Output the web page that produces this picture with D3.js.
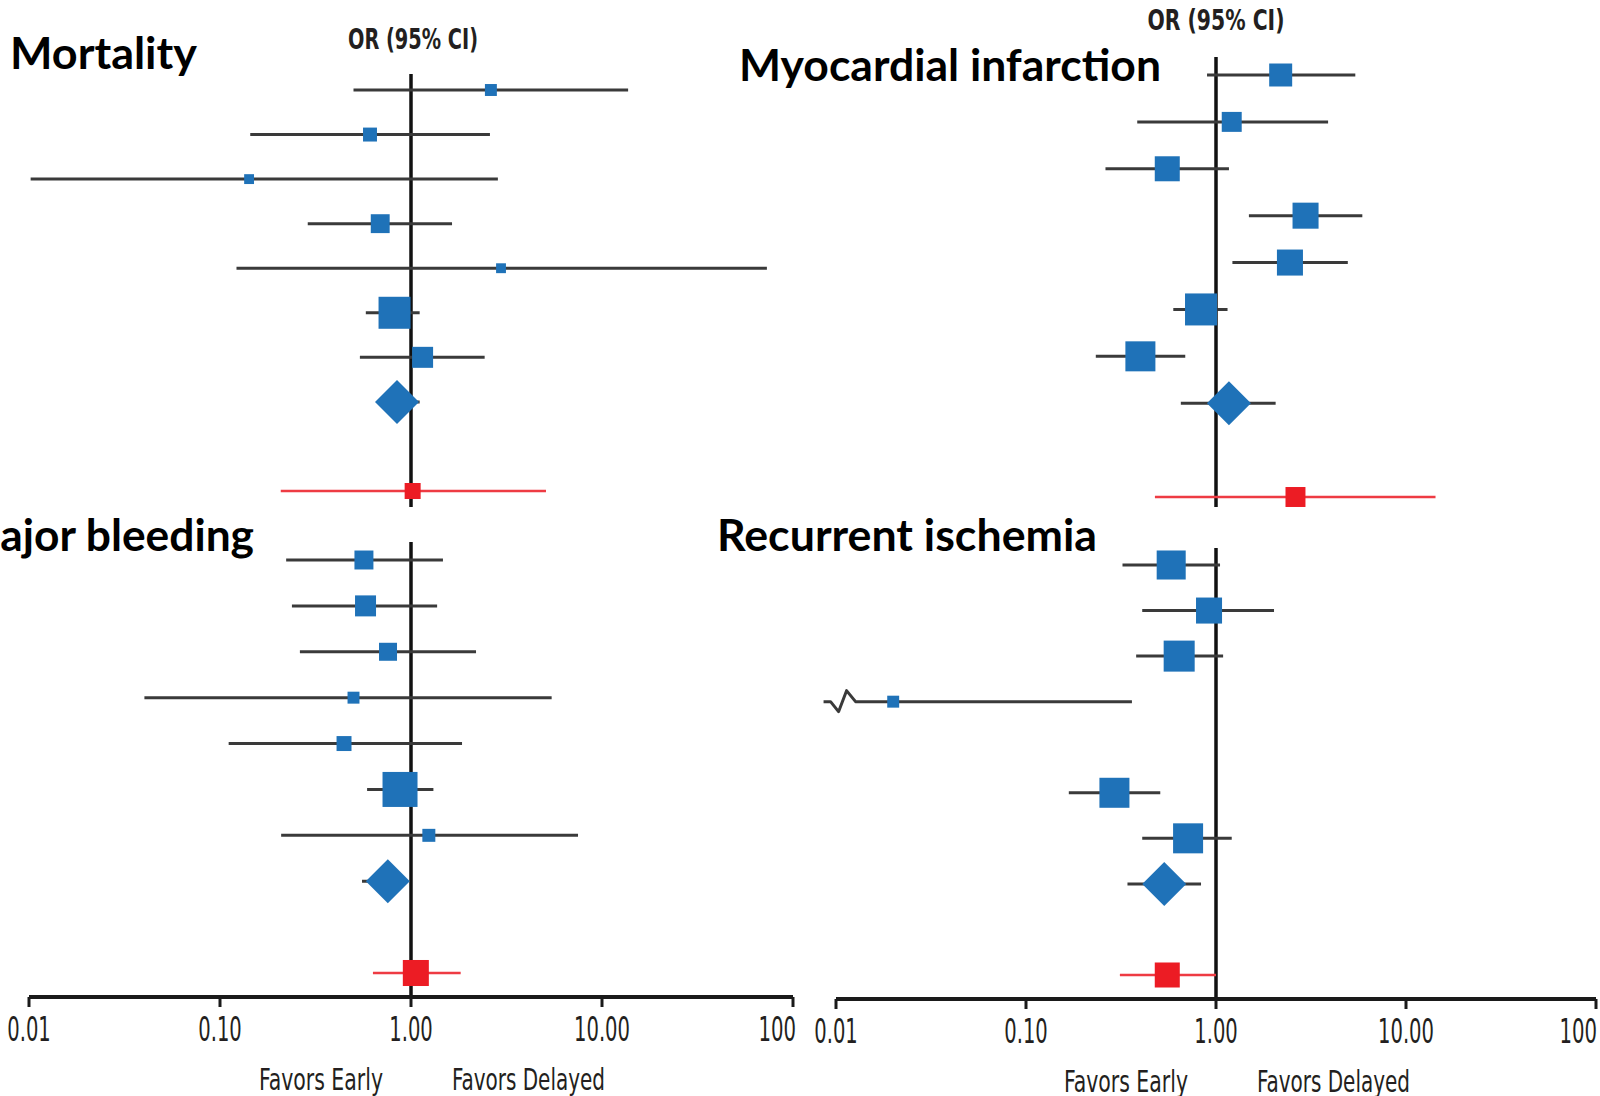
<!DOCTYPE html>
<html>
<head>
<meta charset="utf-8" />
<title>Forest plots</title>
<style>
  body { margin: 0; background: #fff; }
  svg { display: block; }
  .title { font-family: Lato, "Open Sans", sans-serif; font-weight: 700; font-size: 43px; fill: #000; }
  .cond { font-family: "Liberation Sans Narrow", "DejaVu Sans Condensed", "Roboto", sans-serif; font-stretch: condensed; fill: #231f20; }
</style>
</head>
<body>
<svg width="1600" height="1096"></svg>

<script src="https://cdn.jsdelivr.net/npm/d3@7"></script>
<script>

    // each study: [OR, lower 95% CI, upper 95% CI, weight %]; null = empty row
    var mortality = [
        [2.62, 0.50, 13.7, 4.4],
        [0.61, 0.144, 2.59, 6],
        [0.142, 0.0102, 2.85, 3],
        [0.69, 0.288, 1.64, 11],
        [2.96, 0.122, 73, 3],
        [0.82, 0.58, 1.11, 31.6],
        [1.15, 0.54, 2.43, 13.6]
    ];
    var mortalityPooled = [0.845, 0.70, 1.11];
    var mortalityRed = [1.02, 0.208, 5.09, 7.9];

    var infarction = [
        [2.19, 0.897, 5.41, 16.3],
        [1.21, 0.385, 3.89, 12.3],
        [0.554, 0.262, 1.17, 19.3],
        [2.96, 1.49, 5.89, 20.9],
        [2.45, 1.22, 4.94, 20.9],
        [0.834, 0.596, 1.15, 31.6],
        [0.40, 0.233, 0.689, 27.8]
    ];
    var infarctionPooled = [1.17, 0.653, 2.06];
    var infarctionRed = [2.62, 0.477, 14.3, 12.3];

    var bleeding = [
        [0.567, 0.222, 1.47, 11.1],
        [0.578, 0.238, 1.37, 13.6],
        [0.758, 0.262, 2.19, 10],
        [0.50, 0.0402, 5.45, 4.4],
        [0.446, 0.111, 1.85, 6.9],
        [0.876, 0.589, 1.31, 37.8],
        [1.24, 0.209, 7.49, 5.2]
    ];
    var bleedingPooled = [0.756, 0.554, 0.953];
    var bleedingRed = [1.06, 0.632, 1.82, 20.9];

    var ischemia = [
        [0.581, 0.322, 1.05, 26],
        [0.919, 0.409, 2.02, 20.9],
        [0.64, 0.38, 1.09, 29.7],
        [0.02, 0.0086, 0.361, 4.4],
        null,
        [0.292, 0.168, 0.509, 27.8],
        [0.713, 0.409, 1.21, 27.8]
    ];
    var ischemiaPooled = [0.534, 0.342, 0.834];
    var ischemiaRed = [0.554, 0.312, 1.0, 19.3];

    var tickValues = [0.01, 0.1, 1, 10, 100];
    var tickLabels = ['0.01', '0.10', '1.00', '10.00', '100'];

    var blue = '#1f72b8', red = '#ec1c24', grey = '#3a3a3a';

    var panels = [
        { title: 'Mortality', tx: 10, ty: 69, tw: 187, studies: mortality, pooled: mortalityPooled, other: mortalityRed,
          xr: [29, 793], yr: [90, 491], vline: [74, 507], or: [413, 49, 130] },
        { title: 'Myocardial infarction', tx: 739, ty: 81, tw: 422, studies: infarction, pooled: infarctionPooled, other: infarctionRed,
          xr: [836, 1596], yr: [75, 497], vline: [57, 507], or: [1216, 30, 137] },
        { title: 'Major bleeding', tx: -41, ty: 551, tw: 295, studies: bleeding, pooled: bleedingPooled, other: bleedingRed,
          xr: [29, 793], yr: [560, 973], vline: [542, 997], axis: 997 },
        { title: 'Recurrent ischemia', tx: 717, ty: 551, tw: 380, studies: ischemia, pooled: ischemiaPooled, other: ischemiaRed,
          xr: [836, 1596], yr: [565, 975], vline: [548, 999], axis: 999 }
    ];

    var svg = d3.select('svg');
    var size = d3.scaleSqrt().domain([0, 40]).range([0, 36]);

    // width of a condensed numeric label
    function labelWidth(s) {
        var dots = s.length - s.replace(/\./g, '').length;
        return (s.length - dots) * 12.5 + dots * 6;
    }

    panels.forEach(function (p) {
        var g = svg.append('g');

        var x = d3.scaleLog().domain([0.01, 100]).range(p.xr);
        var y = d3.scaleLinear().domain([0, 9]).range(p.yr);

        g.append('text').attr('class', 'title')
            .attr('x', p.tx).attr('y', p.ty)
            .attr('textLength', p.tw).attr('lengthAdjust', 'spacingAndGlyphs')
            .text(p.title);

        if (p.or) {
            g.append('text').attr('class', 'cond')
                .attr('x', p.or[0] - p.or[2] / 2).attr('y', p.or[1])
                .attr('font-size', 29).attr('font-weight', 700)
                .attr('textLength', p.or[2]).attr('lengthAdjust', 'spacingAndGlyphs')
                .text('OR (95% CI)');
        }

        // line of no effect
        g.append('line')
            .attr('x1', x(1)).attr('x2', x(1))
            .attr('y1', p.vline[0]).attr('y2', p.vline[1])
            .attr('stroke', '#111').attr('stroke-width', 3.5);

        var rows = p.studies
            .map(function (d, i) { return d ? { or: d[0], lo: d[1], hi: d[2], w: d[3], row: i } : null; })
            .filter(function (d) { return d; });

        // confidence intervals
        g.selectAll('path.ci')
            .data(rows)
            .enter()
            .append('path')
            .attr('class', 'ci')
            .attr('fill', 'none')
            .attr('stroke', grey)
            .attr('stroke-width', 3)
            .attr('stroke-linejoin', 'round')
            .attr('d', function (d) {
                var yy = y(d.row), x0 = x(d.lo);
                if (d.lo < 0.01) {
                    // broken axis mark for a truncated interval
                    return 'M' + x0 + ',' + yy + 'H' + (x0 + 7) + 'L' + (x0 + 15) + ',' + (yy + 10) +
                        'L' + (x0 + 23) + ',' + (yy - 11) + 'L' + (x0 + 32) + ',' + yy + 'H' + x(d.hi);
                }
                return 'M' + x0 + ',' + yy + 'H' + x(d.hi);
            });

        g.selectAll('rect.study')
            .data(rows)
            .enter()
            .append('rect')
            .attr('class', 'study')
            .attr('x', function (d) { return x(d.or) - size(d.w) / 2; })
            .attr('y', function (d) { return y(d.row) - size(d.w) / 2; })
            .attr('width', function (d) { return size(d.w); })
            .attr('height', function (d) { return size(d.w); })
            .attr('fill', blue);

        // pooled estimate
        var py = y(7);
        g.append('line')
            .attr('x1', x(p.pooled[1])).attr('x2', x(p.pooled[2]))
            .attr('y1', py).attr('y2', py)
            .attr('stroke', grey).attr('stroke-width', 3);
        var px = x(p.pooled[0]);
        g.append('path')
            .attr('d', 'M' + (px - 22) + ',' + py + 'L' + px + ',' + (py - 22) + 'L' + (px + 22) + ',' + py + 'L' + px + ',' + (py + 22) + 'Z')
            .attr('fill', blue);

        // red row
        var ry = y(9), rs = size(p.other[3]);
        g.append('line')
            .attr('x1', x(p.other[1])).attr('x2', x(p.other[2]))
            .attr('y1', ry).attr('y2', ry)
            .attr('stroke', '#ee3b43').attr('stroke-width', 2.5);
        g.append('rect')
            .attr('x', x(p.other[0]) - rs / 2).attr('y', ry - rs / 2)
            .attr('width', rs).attr('height', rs)
            .attr('fill', red);

        if (p.axis) {
            var ax = g.append('g').attr('transform', 'translate(0,' + p.axis + ')');
            ax.append('line')
                .attr('x1', x(0.01)).attr('x2', x(100))
                .attr('stroke', '#1a1a1a').attr('stroke-width', 4);
            ax.selectAll('line.tick')
                .data(tickValues)
                .enter()
                .append('line')
                .attr('class', 'tick')
                .attr('x1', function (d) { return x(d); })
                .attr('x2', function (d) { return x(d); })
                .attr('y1', 0).attr('y2', 10)
                .attr('stroke', '#1a1a1a').attr('stroke-width', 3);
            ax.selectAll('text.tl')
                .data(tickValues)
                .enter()
                .append('text')
                .attr('class', 'cond tl')
                .attr('x', function (d, i) { return i === tickValues.length - 1 ? Math.min(x(d) + 3, 1597) : x(d); })
                .attr('y', 44)
                .attr('text-anchor', function (d, i) { return i === tickValues.length - 1 ? 'end' : 'middle'; })
                .attr('font-size', 33)
                .attr('textLength', function (d, i) { return labelWidth(tickLabels[i]); })
                .attr('lengthAdjust', 'spacingAndGlyphs')
                .text(function (d, i) { return tickLabels[i]; });

            g.append('text').attr('class', 'cond')
                .attr('x', x(1) - 28).attr('y', p.axis + 93)
                .attr('text-anchor', 'end')
                .attr('font-size', 31)
                .attr('textLength', 124).attr('lengthAdjust', 'spacingAndGlyphs')
                .text('Favors Early');
            g.append('text').attr('class', 'cond')
                .attr('x', x(1) + 41).attr('y', p.axis + 93)
                .attr('font-size', 31)
                .attr('textLength', 153).attr('lengthAdjust', 'spacingAndGlyphs')
                .text('Favors Delayed');
        }
    });
</script>
</body>
</html>
